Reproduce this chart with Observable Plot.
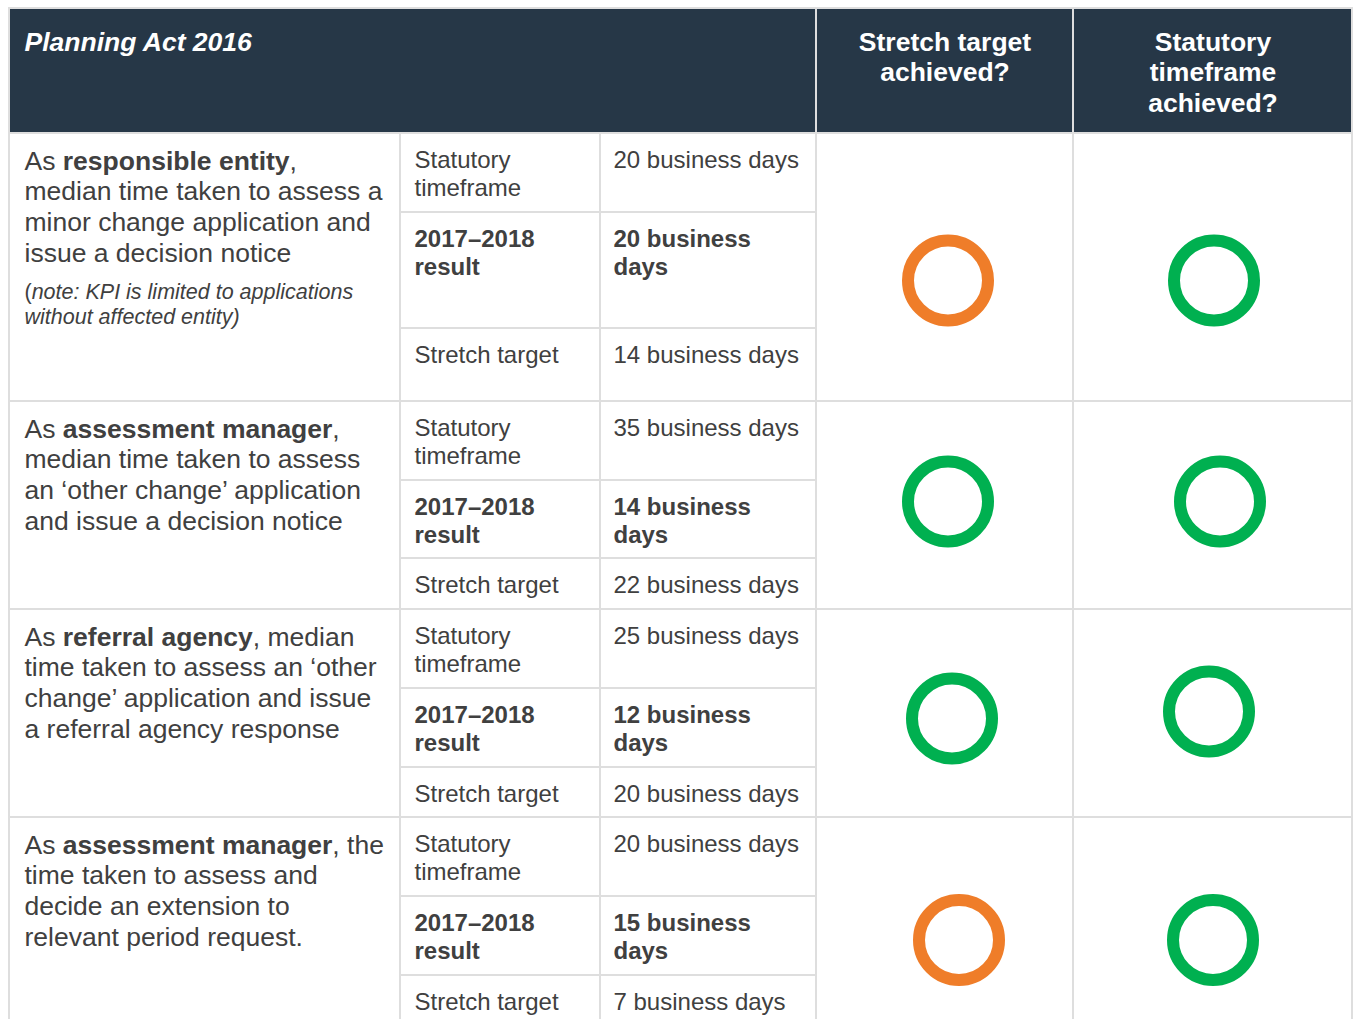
<!DOCTYPE html>
<html>
<head>
<meta charset="utf-8">
<script src="https://cdn.jsdelivr.net/npm/d3@7"></script>
<script src="https://cdn.jsdelivr.net/npm/@observablehq/plot@0.6"></script>
<style>
  html, body { margin: 0; padding: 0; background: #ffffff; }
  #chart svg { display: block; }
</style>
</head>
<body>
<div id="chart"></div>
<script>
// ---------------- DATA ----------------
const tableTitle = "Planning Act 2016";
const statusHeaders = ["Stretch target\nachieved?", "Statutory\ntimeframe\nachieved?"];
const kpiDescriptions = [
  "As **responsible entity**,\nmedian time taken to assess a\nminor change application and\nissue a decision notice",
  "As **assessment manager**,\nmedian time taken to assess\nan ‘other change’ application\nand issue a decision notice",
  "As **referral agency**, median\ntime taken to assess an ‘other\nchange’ application and issue\na referral agency response",
  "As **assessment manager**, the\ntime taken to assess and\ndecide an extension to\nrelevant period request."
];
const kpiNotes = ["(_note: KPI is limited to applications_\n_without affected entity)_", "", "", ""];
const measureLabels = ["Statutory\ntimeframe", "**2017–2018**\n**result**", "Stretch target"];
const statutoryDays = [20, 35, 25, 20];
const resultDays = [20, 14, 12, 15];
const stretchDays = [14, 22, 20, 7];
const stretchAchieved = [false, true, true, false];
const statutoryAchieved = [true, true, true, true];

// ---------------- LAYOUT / STYLE ----------------
const W = 1353, H = 1019;
const FONT = '"Liberation Sans", Arial, Helvetica, sans-serif';
const headerFill = "#263747";
const gridColor = "#dedede";
const textColor = "#404040";
const yesColor = "#00b050";
const noColor = "#ef7d29";
const colEdges = [9, 400, 600, 816, 1073, 1352];
const headerTop = 8, headerBottom = 133;
const subRowHeights = [[79, 116, 73], [79, 78, 51], [79, 79, 50], [79, 79, 65]];
const circleNudge = [[[3, 13], [1, 13]], [[3, -4], [7, -4]], [[7, 5], [-4, -2]], [[14, 11], [0, 11]]];

const ctx = document.createElement("canvas").getContext("2d");
function textWidth(str, size, weight, style) {
  ctx.font = `${style} ${weight} ${size}px ${FONT}`;
  return ctx.measureText(str).width;
}
function parseLine(line) {
  return line.split(/(\*\*[^*]+\*\*|_[^_]+_)/).filter(s => s).map(p =>
    p.startsWith("**") ? {text: p.slice(2, -2), weight: "bold", style: null}
    : p.startsWith("_") ? {text: p.slice(1, -1), weight: null, style: "italic"}
    : {text: p, weight: null, style: null});
}
const runs = [];
function addText(str, x0, y0, step, size, fill, baseWeight = "normal", baseStyle = "normal", anchor = "start") {
  str.split("\n").forEach((line, i) => {
    let x = x0;
    for (const seg of parseLine(line)) {
      const weight = seg.weight || baseWeight;
      const style = seg.style || baseStyle;
      runs.push({x, y: y0 + i * step, text: seg.text, size, weight, style, fill, anchor});
      x += textWidth(seg.text, size, weight, style);
    }
  });
}

// header
const headerCells = [
  {x1: colEdges[0], x2: colEdges[3], y1: headerTop, y2: headerBottom},
  {x1: colEdges[3], x2: colEdges[4], y1: headerTop, y2: headerBottom},
  {x1: colEdges[4], x2: colEdges[5], y1: headerTop, y2: headerBottom}
];
addText(tableTitle, colEdges[0] + 15, 50, 30.5, 26.5, "#ffffff", "bold", "italic");
statusHeaders.forEach((h, j) => {
  addText(h, (colEdges[3 + j] + colEdges[4 + j]) / 2, 50, 30.5, 26.5, "#ffffff", "bold", "normal", "middle");
});

// body
const bodyCells = [];
const circles = [];
let rowTop = headerBottom;
kpiDescriptions.forEach((desc, i) => {
  const hs = subRowHeights[i];
  const rowBottom = rowTop + d3.sum(hs);
  bodyCells.push({x1: colEdges[0], x2: colEdges[1], y1: rowTop, y2: rowBottom});
  bodyCells.push({x1: colEdges[3], x2: colEdges[4], y1: rowTop, y2: rowBottom});
  bodyCells.push({x1: colEdges[4], x2: colEdges[5], y1: rowTop, y2: rowBottom});
  // description
  const descLines = desc.split("\n").length;
  const step1 = 30.7;
  addText(desc, colEdges[0] + 15, rowTop + 36, step1, 26.5, textColor);
  if (kpiNotes[i]) addText(kpiNotes[i], colEdges[0] + 15, rowTop + 36 + (descLines - 1) * step1 + 37, 25, 21.5, textColor);
  // measures
  const values = [
    `${statutoryDays[i]} business days`,
    `**${resultDays[i]} business**\n**days**`,
    `${stretchDays[i]} business days`
  ];
  let st = rowTop;
  hs.forEach((h, k) => {
    bodyCells.push({x1: colEdges[1], x2: colEdges[2], y1: st, y2: st + h});
    bodyCells.push({x1: colEdges[2], x2: colEdges[3], y1: st, y2: st + h});
    addText(measureLabels[k], colEdges[1] + 14, st + 34.5, 27.6, 24, textColor);
    addText(values[k], colEdges[2] + 13, st + 34.5, 27.6, 24, textColor);
    st += h;
  });
  // achievement rings
  const cy = (rowTop + rowBottom) / 2;
  [stretchAchieved[i], statutoryAchieved[i]].forEach((ok, j) => {
    circles.push({
      cx: (colEdges[3 + j] + colEdges[4 + j]) / 2 + circleNudge[i][j][0],
      cy: cy + circleNudge[i][j][1],
      color: ok ? yesColor : noColor
    });
  });
  rowTop = rowBottom;
});

// group text runs by font properties
const groups = d3.groups(runs, r => `${r.size}|${r.weight}|${r.style}|${r.anchor}|${r.fill}`);
const textMarks = groups.map(([key, rs]) => Plot.text(rs, {
  x: "x", y: "y", text: "text",
  fill: rs[0].fill,
  fontSize: rs[0].size,
  fontWeight: rs[0].weight,
  fontStyle: rs[0].style,
  fontFamily: FONT,
  textAnchor: rs[0].anchor,
  lineAnchor: "bottom"
}));

const ringMarks = d3.groups(circles, c => c.color).map(([color, cs]) =>
  Plot.dot(cs, {x: "cx", y: "cy", r: 40, stroke: color, strokeWidth: 12, fill: "none"}));

const chart = Plot.plot({
  width: W,
  height: H,
  margin: 0,
  style: {background: "#ffffff", fontFamily: FONT},
  x: {domain: [0, W], range: [0, W], axis: null},
  y: {domain: [0, H], range: [0, H], axis: null},
  marks: [
    Plot.rect(headerCells, {x1: "x1", x2: "x2", y1: "y1", y2: "y2", fill: headerFill, stroke: gridColor, strokeWidth: 2}),
    Plot.rect(bodyCells, {x1: "x1", x2: "x2", y1: "y1", y2: "y2", fill: "#ffffff", stroke: gridColor, strokeWidth: 2}),
    ...ringMarks,
    ...textMarks
  ]
});
document.getElementById("chart").appendChild(chart);
</script>
</body>
</html>
